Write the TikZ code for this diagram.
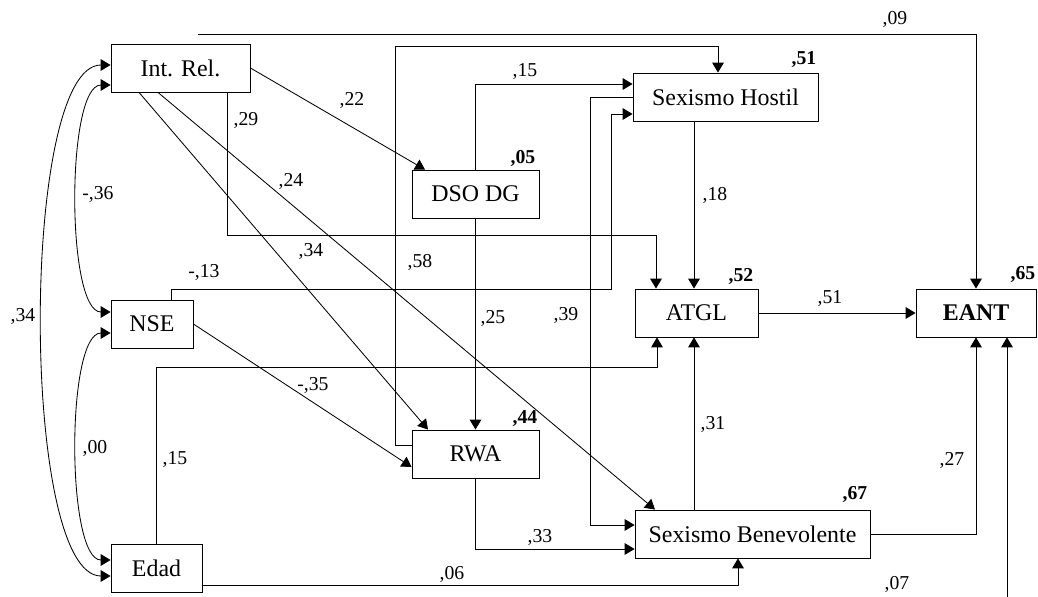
\documentclass[tikz,border=0pt]{standalone}
\usepackage{fontspec}
\setmainfont{Liberation Serif}
\usetikzlibrary{arrows.meta}

\begin{document}
\begin{tikzpicture}[x=0.025cm,y=-0.025cm,line width=.6pt,
    >={Triangle[length=7pt,width=8.2pt]}]

      \useasboundingbox (0,0) rectangle (1038,597);

      \begin{scope}[every node/.style={draw,rectangle,minimum height=1.2cm,inner sep=0pt,
          font=\fontsize{17}{20}\selectfont}]
        \node[minimum width=3.475cm] (intrel) at (180.5,68)  {Int. Rel.};
        \node[minimum width=3.175cm] (dso)    at (475.5,194) {DSO DG};
        \node[minimum width=4.625cm] (hostil) at (725.5,97)  {Sexismo Hostil};
        \node[minimum width=3.075cm] (atgl)   at (696.5,313) {ATGL};
        \node[minimum width=3.0cm]   (eant)   at (976,313)   {\bfseries EANT};
        \node[minimum width=2.05cm]  (nse)    at (152,324)   {NSE};
        \node[minimum width=2.275cm] (edad)   at (156.5,568) {Edad};
        \node[minimum width=3.175cm] (rwa)    at (475.5,454) {RWA};
        \node[minimum width=5.875cm] (benev)  at (752.5,534) {Sexismo Benevolente};
      \end{scope}

      \coordinate (c09) at (198,34);
      \coordinate (c07) at (1007,597);

      % paths
      \draw[->] (c09) -| (eant.north);
      \draw[->] (rwa.west |- 0,445) -| (395,46) -| (hostil.north -| 718,0);
      \draw[->] (dso.north) |- (hostil.west |- 0,84);
      \draw[->] (hostil.west) -| (590,525) -- (benev.west |- 0,525);
      \draw[->] (nse.north -| 171,0) |- (611,289) |- (hostil.west |- 0,114);
      \draw[->] (intrel.south -| 227,0) |- (656,235) -- (atgl.north -| 656,0);
      \draw[->] (hostil.south -| 694,0) -- (atgl.north -| 694,0);
      \draw[->] (intrel.east) -- (dso.north -| 425,0);
      \draw[->] (intrel.south -| 139,0) -- (rwa.north -| 428,0);
      \draw[->] (intrel.south -| 158,0) -- (benev.north -| 655,0);
      \draw[->] (dso.south) -- (rwa.north);
      \draw[->] (nse.east) -- (rwa.west |- 0,467);
      \draw[->] (edad.north) |- (657,367) -- (atgl.south -| 657,0);
      \draw[->] (rwa.south) |- (benev.west |- 0,549);
      \draw[->] (edad.east |- 0,585) -| (benev.south -| 738,0);
      \draw[->] (benev.north -| 694,0) -- (atgl.south -| 694,0);
      \draw[->] (atgl.east) -- (eant.west);
      \draw[->] (benev.east) -| (eant.south);
      \draw[->] (c07) -- (eant.south -| c07);

      % correlations
      \draw[<->] (intrel.west |- 0,85) .. controls (66,85) and (66,312) .. (nse.west |- 0,312);
      \draw[<->] (nse.west |- 0,333) .. controls (66,333) and (66,560) .. (edad.west |- 0,560);
      \draw[<->] (intrel.west |- 0,65) .. controls (20,65) and (20,576) .. (edad.west |- 0,576);

      \begin{scope}[every node/.style={inner sep=0pt,font=\fontsize{14}{16}\selectfont}]
        \node (l09)  at (895,19)  {,09};
        \node (l58)  at (420,262) {,58};
        \node (l15a) at (525,72)  {,15};
        \node (l39)  at (566,315) {,39};
        \node (l13)  at (204,272) {-,13};
        \node (l29)  at (246,120) {,29};
        \node (l18)  at (715,195) {,18};
        \node (l22)  at (352,100) {,22};
        \node (l34a) at (311,251) {,34};
        \node (l24)  at (291,181) {,24};
        \node (l25)  at (493,318) {,25};
        \node (l35)  at (313,385) {-,35};
        \node (l15b) at (175,460) {,15};
        \node (l33)  at (540,537) {,33};
        \node (l06)  at (452,574) {,06};
        \node (l31)  at (713,424) {,31};
        \node (l51)  at (830,299) {,51};
        \node (l27)  at (952,460) {,27};
        \node (l07)  at (897,584) {,07};
        \node (l36)  at (98,194)  {-,36};
        \node (l00)  at (95,448)  {,00};
        \node (l34b) at (23,316)  {,34};
      \end{scope}

      \begin{scope}[every node/.style={inner sep=0pt,font=\fontsize{14}{16}\selectfont\bfseries}]
        \node (r05) at (523,158) {,05};
        \node (r51) at (804,60)  {,51};
        \node (r52) at (741,277) {,52};
        \node (r65) at (1023,275) {,65};
        \node (r44) at (525,419) {,44};
        \node (r67) at (855,495) {,67};
      \end{scope}

    \end{tikzpicture}
\end{document}
